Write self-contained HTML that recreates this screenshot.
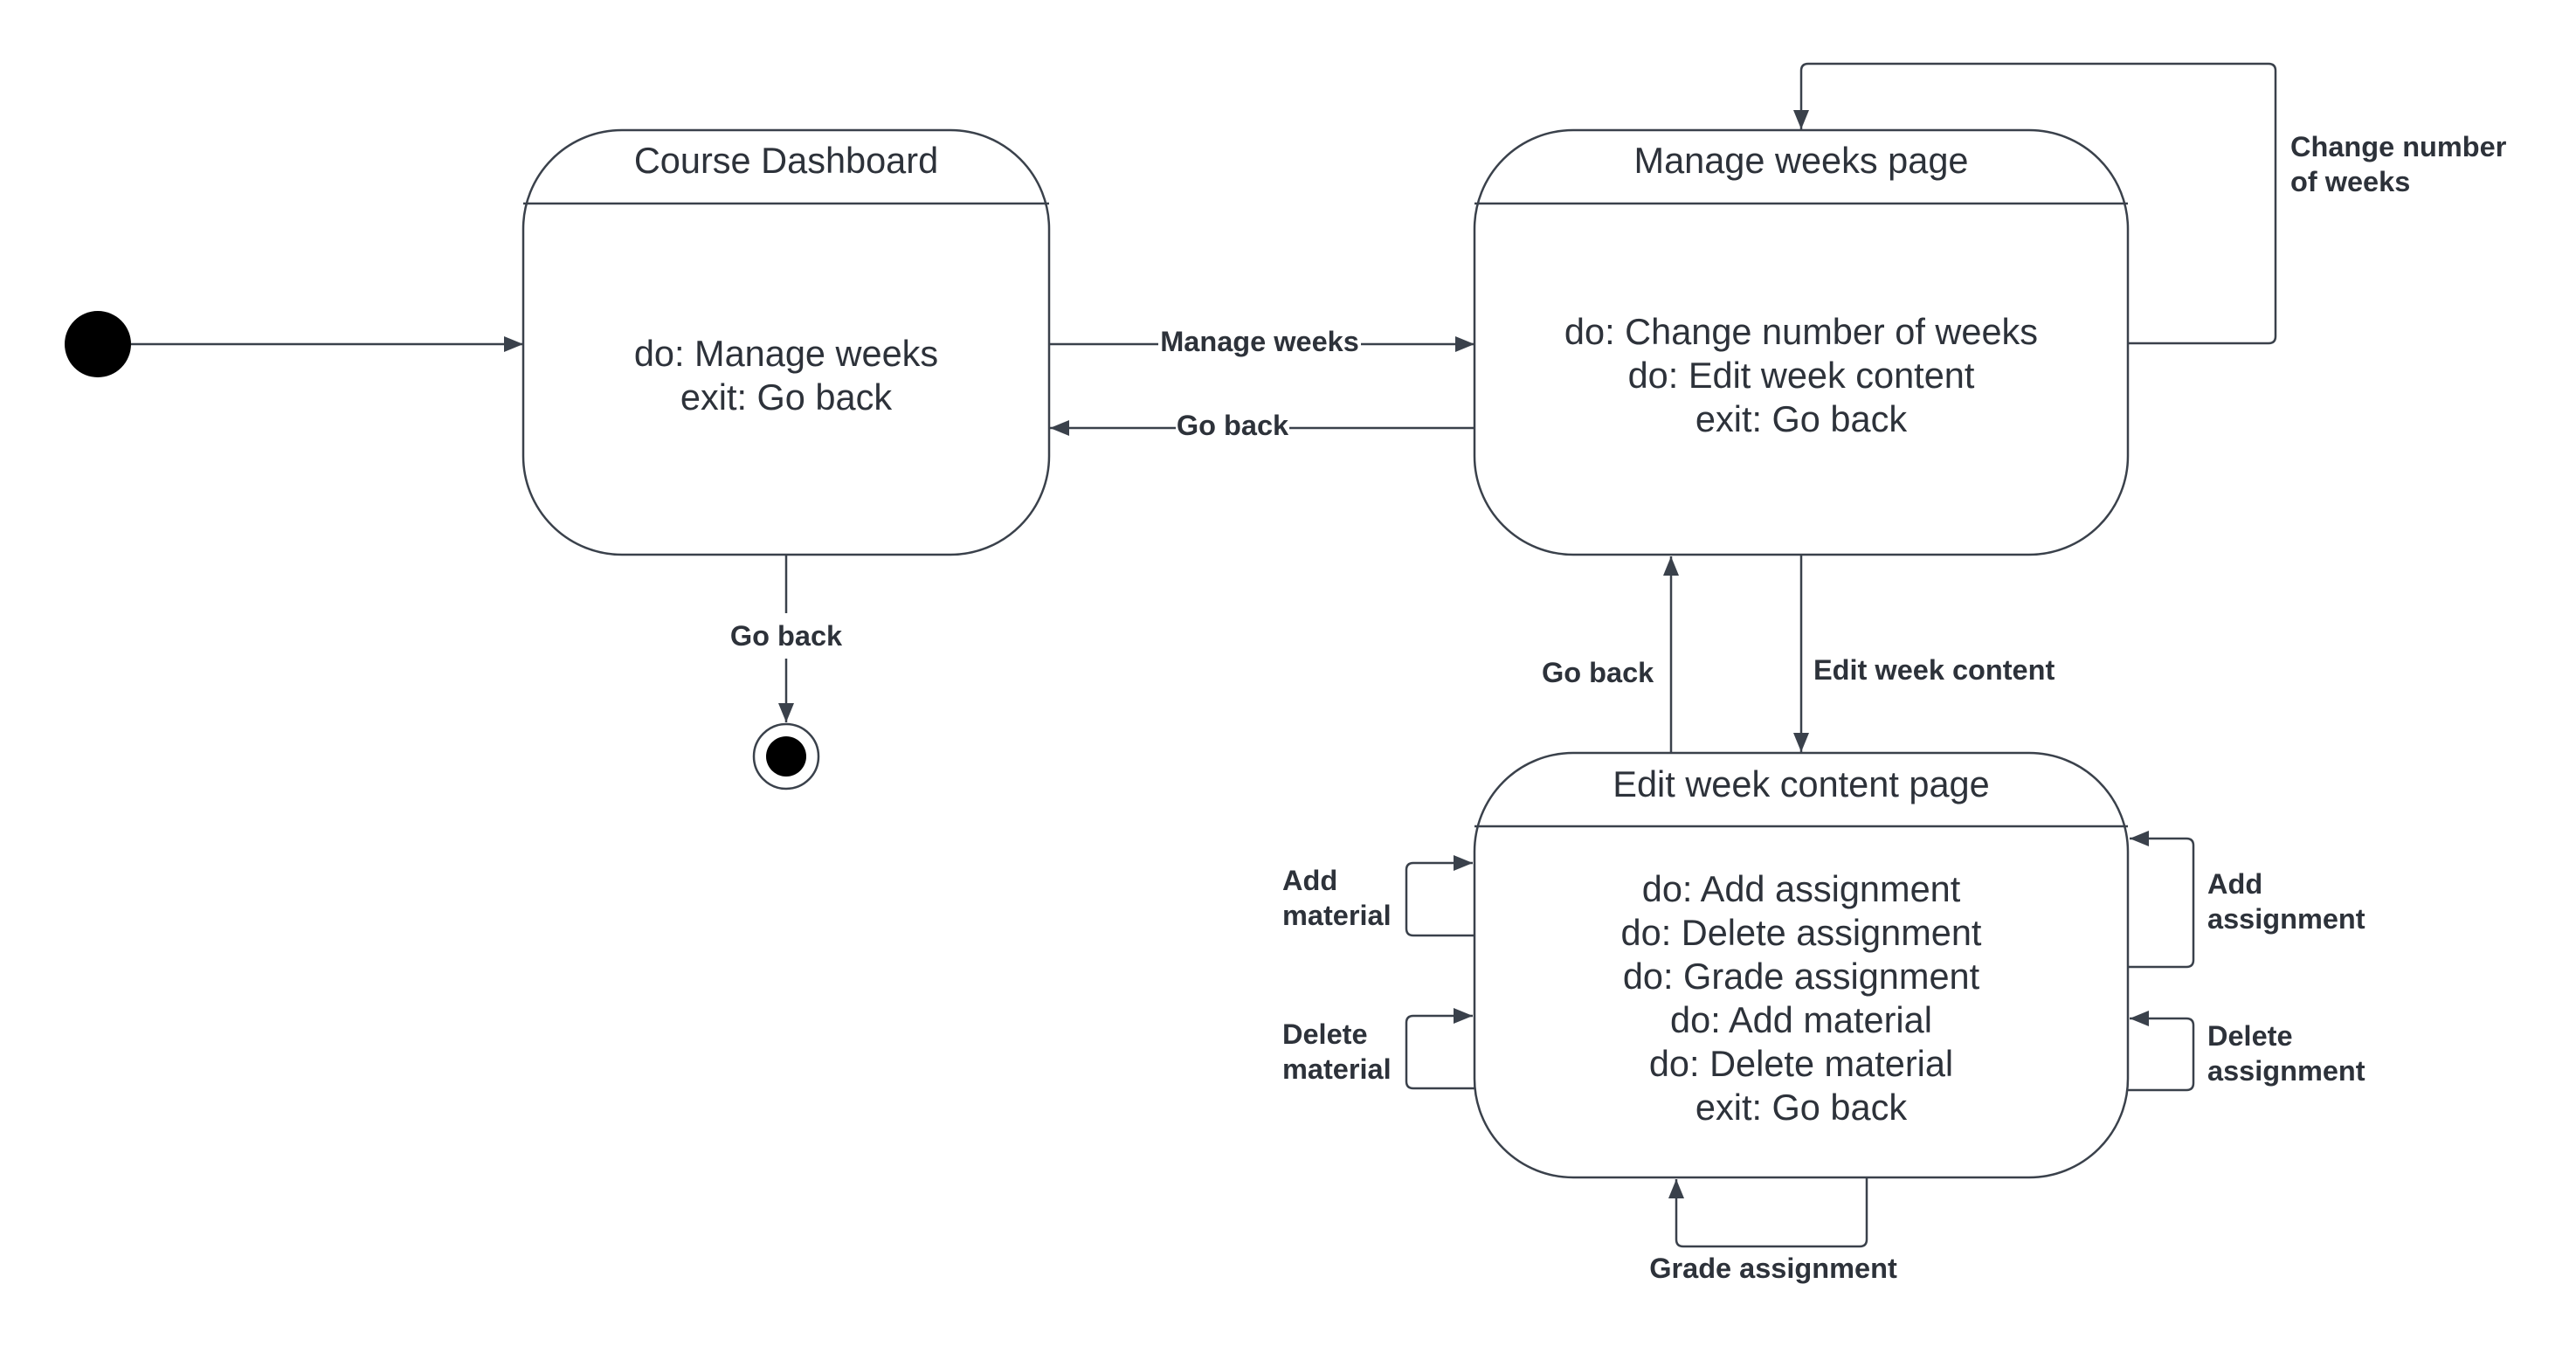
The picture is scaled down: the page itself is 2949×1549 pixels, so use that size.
<!DOCTYPE html>
<html><head><meta charset="utf-8"><style>
html,body{margin:0;padding:0;background:#fff;}
svg{display:block;}
.t{font-family:"Liberation Sans",sans-serif;font-size:41.5px;fill:#2d323a;text-anchor:middle;}
.l{font-family:"Liberation Sans",sans-serif;font-size:32.5px;font-weight:bold;fill:#2d323a;}
.s{fill:none;stroke:#3a414b;stroke-width:2.5;}
</style></head><body>
<svg width="2949" height="1549" viewBox="0 0 2949 1549" xmlns="http://www.w3.org/2000/svg">
<defs>
<marker id="b" viewBox="0 0 22 18" markerWidth="22" markerHeight="18" refX="22" refY="9" orient="auto" markerUnits="userSpaceOnUse"><path d="M0,0 L22,9 L0,18z" fill="#3a414b"/></marker></defs>

<circle cx="112" cy="394" r="38" fill="#000"/>
<line class="s" x1="150" y1="394" x2="599" y2="394" marker-end="url(#b)"/>

<rect class="s" x="599" y="149" width="602" height="486" rx="113"/>
<line class="s" x1="599" y1="233" x2="1201" y2="233"/>
<text class="t" x="900" y="198">Course Dashboard</text>
<text class="t" x="900" y="419">do: Manage weeks</text>
<text class="t" x="900" y="469">exit: Go back</text>

<line class="s" x1="900" y1="635" x2="900" y2="702"/>
<text class="l" x="900" y="739" text-anchor="middle">Go back</text>
<line class="s" x1="900" y1="754" x2="900" y2="827" marker-end="url(#b)"/>
<circle cx="900" cy="866" r="37" fill="#fff" stroke="#3a414b" stroke-width="2.5"/>
<circle cx="900" cy="866" r="23" fill="#000"/>

<rect class="s" x="1688" y="149" width="748" height="486" rx="113"/>
<line class="s" x1="1688" y1="233" x2="2436" y2="233"/>
<text class="t" x="2062" y="198">Manage weeks page</text>
<text class="t" x="2062" y="394">do: Change number of weeks</text>
<text class="t" x="2062" y="444">do: Edit week content</text>
<text class="t" x="2062" y="494">exit: Go back</text>

<line class="s" x1="1201" y1="394" x2="1688" y2="394" marker-end="url(#b)"/>
<rect x="1326" y="374" width="232" height="38" fill="#fff"/>
<text class="l" x="1442" y="402" text-anchor="middle">Manage weeks</text>
<line class="s" x1="1688" y1="490" x2="1202" y2="490" marker-end="url(#b)"/>
<rect x="1346" y="470" width="130" height="38" fill="#fff"/>
<text class="l" x="1411" y="498" text-anchor="middle">Go back</text>

<path class="s" d="M2436,393 H2597 Q2605,393 2605,385 V81 Q2605,73 2597,73 H2070 Q2062,73 2062,81 V148" marker-end="url(#b)"/>
<text class="l" x="2622" y="179">Change number</text>
<text class="l" x="2622" y="219">of weeks</text>

<line class="s" x1="1913" y1="862" x2="1913" y2="637" marker-end="url(#b)"/>
<text class="l" x="1765" y="781">Go back</text>
<line class="s" x1="2062" y1="636" x2="2062" y2="861" marker-end="url(#b)"/>
<text class="l" x="2076" y="778">Edit week content</text>

<rect class="s" x="1688" y="862" width="748" height="486" rx="113"/>
<line class="s" x1="1688" y1="946" x2="2436" y2="946"/>
<text class="t" x="2062" y="912">Edit week content page</text>
<text class="t" x="2062" y="1032">do: Add assignment</text>
<text class="t" x="2062" y="1082">do: Delete assignment</text>
<text class="t" x="2062" y="1132">do: Grade assignment</text>
<text class="t" x="2062" y="1182">do: Add material</text>
<text class="t" x="2062" y="1232">do: Delete material</text>
<text class="t" x="2062" y="1282">exit: Go back</text>

<path class="s" d="M1688,1071 H1618 Q1610,1071 1610,1063 V996 Q1610,988 1618,988 H1686" marker-end="url(#b)"/>
<text class="l" x="1468" y="1019">Add</text>
<text class="l" x="1468" y="1059">material</text>
<path class="s" d="M1688,1246 H1618 Q1610,1246 1610,1238 V1171 Q1610,1163 1618,1163 H1686" marker-end="url(#b)"/>
<text class="l" x="1468" y="1195">Delete</text>
<text class="l" x="1468" y="1235">material</text>

<path class="s" d="M2436,1107 H2503 Q2511,1107 2511,1099 V968 Q2511,960 2503,960 H2438" marker-end="url(#b)"/>
<text class="l" x="2527" y="1023">Add</text>
<text class="l" x="2527" y="1063">assignment</text>
<path class="s" d="M2436,1248 H2503 Q2511,1248 2511,1240 V1174 Q2511,1166 2503,1166 H2438" marker-end="url(#b)"/>
<text class="l" x="2527" y="1197">Delete</text>
<text class="l" x="2527" y="1237">assignment</text>

<path class="s" d="M2137,1348 V1419 Q2137,1427 2129,1427 H1927 Q1919,1427 1919,1419 V1350" marker-end="url(#b)"/>
<text class="l" x="2030" y="1463" text-anchor="middle">Grade assignment</text>
</svg>
</body></html>
